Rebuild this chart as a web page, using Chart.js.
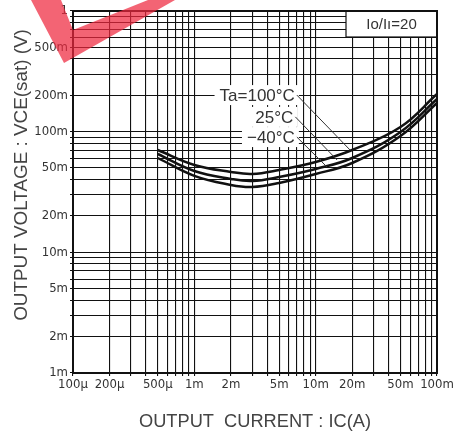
<!DOCTYPE html>
<html><head><meta charset="utf-8">
<script src="https://cdn.jsdelivr.net/npm/chart.js@4.4.1/dist/chart.umd.min.js"></script>
<style>html,body{margin:0;padding:0;background:#fff}#wrap{width:454px;height:437px}</style>
</head><body><div id="wrap"><canvas id="c" width="454" height="437"></canvas></div>
<script>
// ---- data ----
const currentA = [0.0005, 0.001, 0.002, 0.003, 0.005, 0.01, 0.02, 0.05, 0.1];
const vce100 = [0.0705, 0.0530, 0.0464, 0.0446, 0.0482, 0.0561, 0.0705, 0.1093, 0.205];
const vce25  = [0.0653, 0.0472, 0.0406, 0.0390, 0.0421, 0.0491, 0.0605, 0.0994, 0.1866];
const vceM40 = [0.0605, 0.0430, 0.0362, 0.0348, 0.0376, 0.0446, 0.0550, 0.0921, 0.1729];
const seriesLabels = ['Ta=100°C', '25°C', '−40°C'];
const xTickValues = [1e-4, 2e-4, 5e-4, 1e-3, 2e-3, 5e-3, 1e-2, 2e-2, 5e-2, 1e-1];
const xTickLabels = ['100µ', '200µ', '500µ', '1m', '2m', '5m', '10m', '20m', '50m', '100m'];
const yTickValues = [1e-3, 2e-3, 5e-3, 1e-2, 2e-2, 5e-2, 0.1, 0.2, 0.5, 1];
const yTickLabels = ['1m', '2m', '5m', '10m', '20m', '50m', '100m', '200m', '500m', '1'];
const labelAtX = [0.0070, 0.0068, 0.0070];
const labelAtY = [0.201, 0.1326, 0.0902];
const leaderToX = [0.0192, 0.0150, 0.0124];
const leaderToY = [0.0705, 0.0583, 0.0510];
const ratioText = 'Io/Iı=20';
const xTitle = 'OUTPUT  CURRENT : IC(A)';
const yTitle = 'OUTPUT VOLTAGE : VCE(sat) (V)';

function decadeGrid(min, max) {
  const out = [];
  for (let e = Math.floor(Math.log10(min)); e <= Math.ceil(Math.log10(max)); e++) {
    for (let m = 1; m <= 9; m++) {
      const v = m * Math.pow(10, e);
      if (v >= min * 0.9999 && v <= max * 1.0001) out.push(v);
    }
  }
  return out;
}
function lookup(v, vals, labels) {
  for (let i = 0; i < vals.length; i++) if (Math.abs(v / vals[i] - 1) < 1e-6) return labels[i];
  return '';
}
const toPts = arr => currentA.map((c, i) => ({x: c, y: arr[i]}));
const tickFont = {family: '"Liberation Sans Narrow", "DejaVu Sans Condensed", sans-serif', size: 13};

const deco = {
  id: 'deco',
  afterDatasetsDraw(chart) {
    const {ctx, chartArea: a, scales: {x, y}} = chart;
    ctx.save();
    ctx.font = '17px "Liberation Sans", Arial, sans-serif';
    ctx.textAlign = 'right'; ctx.textBaseline = 'middle';
    const pos = seriesLabels.map((t, i) => [x.getPixelForValue(labelAtX[i]), y.getPixelForValue(labelAtY[i]), ctx.measureText(t).width]);
    ctx.fillStyle = '#fff';
    pos.forEach(([px, py, w]) => ctx.fillRect(px - w - 7, py - 10, w + 9, 20));
    ctx.fillStyle = '#333';
    seriesLabels.forEach((t, i) => ctx.fillText(t, pos[i][0] - 2, pos[i][1] + 1));
    ctx.strokeStyle = '#333'; ctx.lineWidth = 1;
    seriesLabels.forEach((t, i) => {
      ctx.beginPath();
      ctx.moveTo(pos[i][0], pos[i][1]);
      ctx.lineTo(x.getPixelForValue(leaderToX[i]), y.getPixelForValue(leaderToY[i]));
      ctx.stroke();
    });
    // ratio box
    const bw = 91, bh = 26;
    ctx.fillStyle = '#fff';
    ctx.fillRect(a.right - bw, a.top, bw, bh);
    ctx.strokeStyle = '#111'; ctx.lineWidth = 1.2;
    ctx.strokeRect(a.right - bw, a.top, bw, bh);
    ctx.fillStyle = '#333'; ctx.textAlign = 'center';
    ctx.font = '15px "Liberation Sans", Arial, sans-serif';
    ctx.fillText(ratioText, a.right - bw / 2, a.top + bh / 2 + 1);
    // frame
    ctx.strokeStyle = '#111'; ctx.lineWidth = 2;
    ctx.strokeRect(a.left, a.top, a.right - a.left, a.bottom - a.top);
    ctx.restore();
  },
  afterDraw(chart) {
    const {ctx, chartArea: a} = chart;
    ctx.save();
    ctx.fillStyle = '#444'; ctx.textAlign = 'center'; ctx.textBaseline = 'middle';
    const fit = (txt, target) => {
      ctx.font = '16px "Liberation Sans", Arial, sans-serif';
      const s = 16 * target / ctx.measureText(txt).width;
      ctx.font = s.toFixed(2) + 'px "Liberation Sans", Arial, sans-serif';
    };
    fit(xTitle, 232);
    ctx.fillText(xTitle, (a.left + a.right) / 2, 422);
    ctx.translate(22, 175);
    ctx.rotate(-Math.PI / 2);
    fit(yTitle, 292);
    ctx.fillText(yTitle, 0, 0);
    ctx.restore();
    // red stroke mark in the corner
    ctx.save();
    ctx.fillStyle = 'rgba(238,40,62,0.72)';
    ctx.beginPath();
    ctx.moveTo(31, 0); ctx.lineTo(64, 63); ctx.lineTo(175, 0);
    ctx.lineTo(148, 0); ctx.lineTo(73, 30); ctx.lineTo(61, 0);
    ctx.closePath(); ctx.fill();
    ctx.restore();
  }
};

const lineStyle = {borderColor: '#111', borderWidth: 2.5, pointRadius: 0, tension: 0.4, fill: false};
new Chart(document.getElementById('c'), {
  type: 'line',
  data: {datasets: [
    Object.assign({label: seriesLabels[0], data: toPts(vce100)}, lineStyle),
    Object.assign({label: seriesLabels[1], data: toPts(vce25)}, lineStyle),
    Object.assign({label: seriesLabels[2], data: toPts(vceM40)}, lineStyle)
  ]},
  options: {
    responsive: false, animation: false, devicePixelRatio: 1,
    layout: {padding: {top: 11, right: 17, left: 0, bottom: 0}},
    plugins: {legend: {display: false}, tooltip: {enabled: false}},
    scales: {
      x: {
        type: 'logarithmic', min: 1e-4, max: 0.1,
        afterBuildTicks: s => { s.ticks = decadeGrid(1e-4, 0.1).map(v => ({value: v})); },
        afterFit: s => { s.height = 64; s.paddingLeft = 0; s.paddingRight = 0; },
        ticks: {autoSkip: false, maxRotation: 0, minRotation: 0, padding: 1, color: '#333', font: tickFont,
          callback: v => lookup(v, xTickValues, xTickLabels)},
        grid: {color: '#111', lineWidth: 1.1, tickLength: 3},
        border: {display: true, color: '#111', width: 2}
      },
      y: {
        type: 'logarithmic', min: 1e-3, max: 1,
        afterBuildTicks: s => { s.ticks = decadeGrid(1e-3, 1).map(v => ({value: v})); },
        afterFit: s => { s.width = 73; },
        ticks: {autoSkip: false, padding: 2, color: '#333', font: tickFont,
          callback: v => lookup(v, yTickValues, yTickLabels)},
        grid: {color: '#111', lineWidth: 1.1, tickLength: 3},
        border: {display: true, color: '#111', width: 2}
      }
    }
  },
  plugins: [deco]
});
</script></body></html>
